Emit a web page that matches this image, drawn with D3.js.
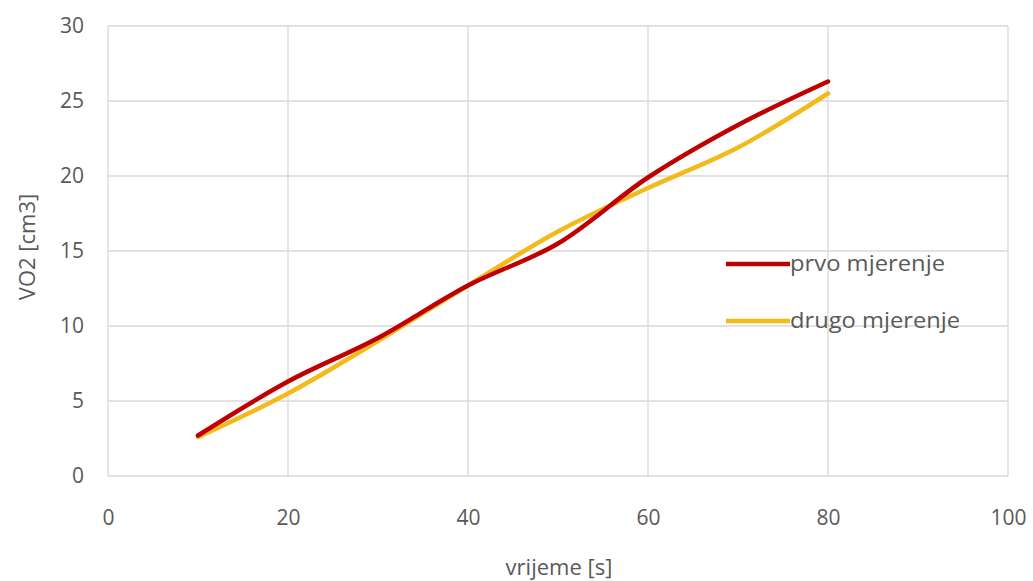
<!DOCTYPE html>
<html><head><meta charset="utf-8">
<script src="https://cdn.jsdelivr.net/npm/d3@7"></script>
<style>body{margin:0;background:#fff}svg{display:block}text{font-family:"Open Sans",sans-serif;fill:#595959}</style>
</head><body><svg id="c" width="1033" height="581"></svg>
<script>
const xValues = [10, 20, 30, 40, 50, 60, 70, 80];
const prvo = [2.7, 6.3, 9.2, 12.7, 15.5, 19.9, 23.4, 26.3];
const drugo = [2.6, 5.5, 9.0, 12.7, 16.3, 19.2, 21.9, 25.5];
const seriesNames = ["prvo mjerenje", "drugo mjerenje"];
const seriesColors = ["#C00000", "#F2BA1A"];
const xTicks = [0, 20, 40, 60, 80, 100];
const yTicks = [0, 5, 10, 15, 20, 25, 30];

const svg = d3.select("#c");
const x = d3.scaleLinear().domain([0, 100]).range([108, 1008]);
const y = d3.scaleLinear().domain([0, 30]).range([476, 26]);
const FONT = '"Open Sans",sans-serif';

svg.append("g").selectAll("line").data(yTicks).join("line")
  .attr("x1", x(0)).attr("x2", x(100)).attr("y1", d => y(d)).attr("y2", d => y(d))
  .attr("stroke", "#d9d9d9").attr("stroke-width", 1.3);
svg.append("g").selectAll("line").data(xTicks).join("line")
  .attr("y1", y(0)).attr("y2", y(30)).attr("x1", d => x(d)).attr("x2", d => x(d))
  .attr("stroke", "#d9d9d9").attr("stroke-width", 1.3);

const ya = svg.append("g").attr("transform", `translate(${x(0)},0)`)
  .call(d3.axisLeft(y).tickValues(yTicks).tickSize(0).tickPadding(24));
ya.select(".domain").remove();
ya.selectAll("text").attr("font-size", 21).attr("fill", "#595959").style("font-family", FONT);
const xa = svg.append("g").attr("transform", `translate(0,${y(0)})`)
  .call(d3.axisBottom(x).tickValues(xTicks).tickSize(0).tickPadding(34));
xa.select(".domain").remove();
xa.selectAll("text").attr("font-size", 21).attr("fill", "#595959").style("font-family", FONT);

svg.append("text").attr("x", 559).attr("y", 575).attr("text-anchor", "middle")
  .attr("font-size", 22).text("vrijeme [s]");
svg.append("text").attr("transform", "translate(35,247) rotate(-90)").attr("text-anchor", "middle")
  .attr("font-size", 22).text("VO2 [cm3]");

const line = d3.line().x((d, i) => x(xValues[i])).y(d => y(d)).curve(d3.curveCatmullRom.alpha(0.5));
[drugo, prvo].forEach((s, k) => {
  const idx = 1 - k;
  svg.append("path").datum(s).attr("d", line).attr("fill", "none")
    .attr("stroke", seriesColors[idx]).attr("stroke-width", 4.5).attr("stroke-linecap", "round");
});

const leg = svg.append("g");
seriesNames.forEach((n, i) => {
  const yy = 264 + i * 57;
  leg.append("line").attr("x1", 726).attr("x2", 790).attr("y1", yy).attr("y2", yy)
    .attr("stroke", seriesColors[i]).attr("stroke-width", 4.5);
  leg.append("text").attr("x", 790).attr("y", yy + 7).attr("font-size", 21)
    .attr("textLength", i === 0 ? 155 : 170).attr("lengthAdjust", "spacingAndGlyphs").text(n);
});
</script></body></html>
